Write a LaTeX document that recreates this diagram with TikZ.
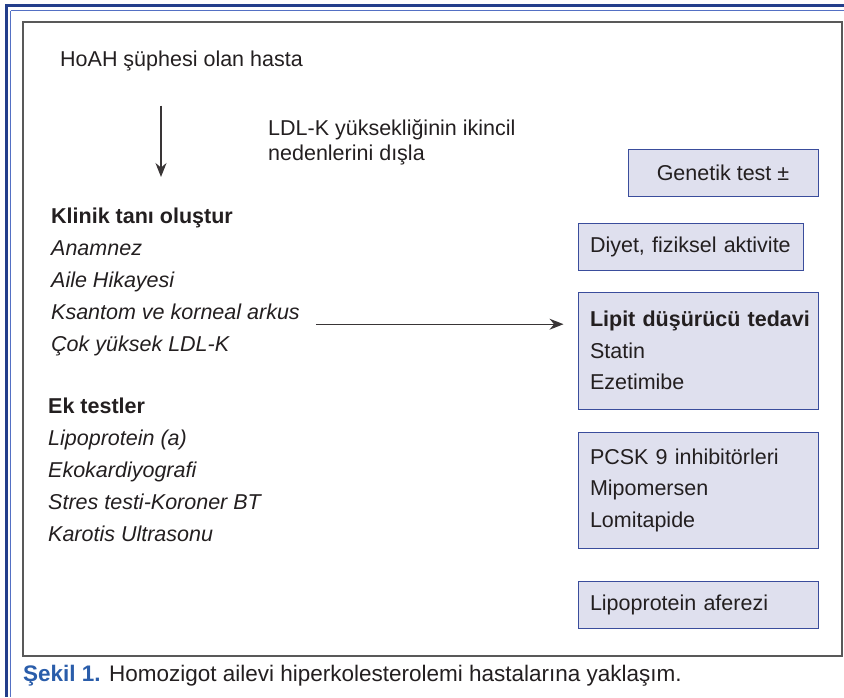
\documentclass[tikz,border=0pt]{standalone}
\usepackage{fontspec}
\setmainfont{Liberation Sans}
\usepackage{xcolor}
\usepackage{tikz}
\usetikzlibrary{positioning,arrows.meta}
\definecolor{ink}{HTML}{231F20}
\definecolor{boxfill}{HTML}{DFE0EE}
\definecolor{boxline}{HTML}{3A4D9C}
\definecolor{framedark}{HTML}{233E8B}
\definecolor{framelight}{HTML}{5470C4}
\definecolor{capblue}{HTML}{2A5DAA}
\tikzset{
  itm/.style   ={inner sep=0pt, anchor=west, text=ink, text height=15pt, text depth=4pt},
  bx/.style    ={rectangle, draw=boxline, line width=1pt, fill=boxfill, text=ink,
                 align=left, inner xsep=12pt, inner ysep=0pt},
  arr/.style   ={-{Stealth[length=14pt, width=11pt]}, line width=1.3pt, draw=ink!90},
}
\begin{document}
\begin{tikzpicture}[x=1pt, y=-1pt, font=\fontsize{21.5}{31.5}\selectfont,
  node distance=12.5pt,
  lst/.style={itm, font=\fontsize{21.5}{31.5}\selectfont\itshape}]
  \useasboundingbox (0,0) rectangle (844,697);
  % page frame
  \draw[framedark, line width=3pt] (6,5.5) -- (844,5.5);
  \draw[framelight, line width=1.2pt] (10.5,10.5) -- (844,10.5);
  \draw[framedark, line width=3pt] (6,4) -- (6,697);
  \draw[framelight, line width=1.2pt] (10.5,10.5) -- (10.5,697);
  \draw[black!65, line width=1.5pt] (23,22) rectangle (842,656);

  \node[itm] (hoah) at (60,61) {HoAH şüphesi olan hasta};
  \node[inner sep=0pt, text=ink, align=left, font=\fontsize{21.5}{25}\selectfont,
        anchor=north west] (dis) at (268,119) {LDL-K yüksekliğinin ikincil\\nedenlerini dışla};

  \node[itm, font=\fontsize{21.5}{31.5}\selectfont\bfseries] (kl) at (51,218) {Klinik tanı oluştur};
  \node[lst, below=of kl.south west, anchor=north west] (an) {Anamnez};
  \node[lst, below=of an.south west, anchor=north west] (ai) {Aile Hikayesi};
  \node[lst, below=of ai.south west, anchor=north west] (ks) {Ksantom ve korneal arkus};
  \node[lst, below=of ks.south west, anchor=north west] (cy) {Çok yüksek LDL-K};

  \node[itm, font=\fontsize{21.5}{31.5}\selectfont\bfseries] (ek) at (48,408) {Ek testler};
  \node[lst, below=of ek.south west, anchor=north west] (lp) {Lipoprotein (a)};
  \node[lst, below=of lp.south west, anchor=north west] (eko) {Ekokardiyografi};
  \node[lst, below=of eko.south west, anchor=north west] (st) {Stres testi-Koroner BT};
  \node[lst, below=of st.south west, anchor=north west] (ka) {Karotis Ultrasonu};

  \node[bx, align=center, minimum width=190pt, minimum height=47pt] (gen) at (723,172.5) {Genetik test ±};
  \node[bx, text width=201pt, minimum height=47pt] (diy) at (690.5,246.5) {Diyet, fiziksel aktivite};
  \node[bx, text width=216pt, minimum height=117pt] (lip) at (698,350.5)
    {\mbox{\textbf{Lipit düşürücü tedavi}}\\Statin\\Ezetimibe};
  \node[bx, text width=216pt, minimum height=116pt] (pcsk) at (698,490)
    {PCSK 9 inhibitörleri\\Mipomersen\\Lomitapide};
  \node[bx, text width=216pt, minimum height=47pt] (af) at (698,604.5) {Lipoprotein aferezi};

  \coordinate (dn) at (161,177);
  \draw[arr, shorten <=35pt] (hoah.south -| dn) -- (dn);
  \draw[arr, shorten <=16pt, shorten >=14pt] ([yshift=-5pt]ks.base east) -- ([yshift=-5pt]ks.base east -| lip.west);

  \node[itm, anchor=west, font=\fontsize{22.5}{31.5}\selectfont] (cap) at (23,676)
    {\textcolor{capblue}{\bfseries Şekil 1.} Homozigot ailevi hiperkolesterolemi hastalarına yaklaşım.};
\end{tikzpicture}
\end{document}
